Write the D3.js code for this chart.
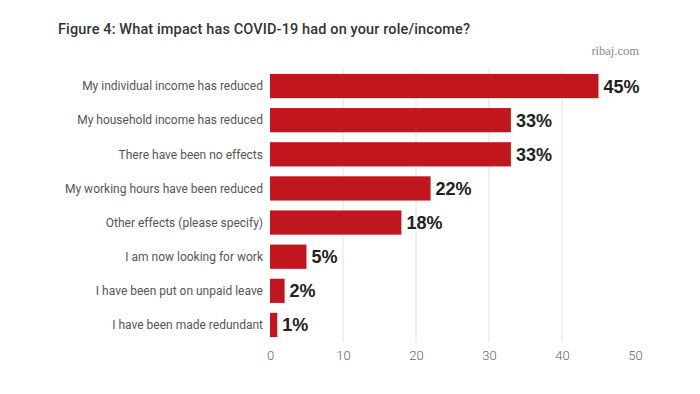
<!DOCTYPE html>
<html><head><meta charset="utf-8">
<script src="https://cdn.jsdelivr.net/npm/d3@7"></script>
<style>body{margin:0;background:#fff}svg{display:block}</style>
</head><body>
<svg id="c" width="700" height="394"></svg>
<script>
const categories = [
  "My individual income has reduced",
  "My household income has reduced",
  "There have been no effects",
  "My working hours have been reduced",
  "Other effects (please specify)",
  "I am now looking for work",
  "I have been put on unpaid leave",
  "I have been made redundant"
];
const values = [45, 33, 33, 22, 18, 5, 2, 1];
const tickValues = [0, 10, 20, 30, 40, 50];
const titleText = "Figure 4: What impact has COVID-19 had on your role/income?";
const sourceText = "ribaj.com";

const svg = d3.select("#c");
const x = d3.scaleLinear().domain([0, 50]).range([270, 635]);
const y = d3.scaleBand().domain(categories).range([69, 342]).paddingInner(0.29).paddingOuter(0.145);

svg.append("text").attr("x", 58).attr("y", 34)
  .attr("font-family", "Roboto, 'Noto Sans', sans-serif").attr("font-weight", 500).attr("font-size", 14.5)
  .attr("textLength", 412).attr("lengthAdjust", "spacing")
  .attr("fill", "#333").text(titleText);
svg.append("text").attr("x", 639).attr("y", 55).attr("text-anchor", "end")
  .attr("font-family", "'Liberation Serif', 'DejaVu Serif', serif").attr("font-size", 12.5)
  .attr("fill", "#888").text(sourceText);

// gridlines
svg.append("g").selectAll("line").data(tickValues.slice(1, -1)).join("line")
  .attr("x1", d => x(d)).attr("x2", d => x(d))
  .attr("y1", 69).attr("y2", 342)
  .attr("stroke", "#e3e3e3").attr("stroke-width", 1);

// x axis
const xAxis = d3.axisBottom(x).tickValues(tickValues).tickSize(0).tickPadding(0);
const ax = svg.append("g").attr("transform", "translate(0,351)").call(xAxis);
ax.select(".domain").remove();
ax.selectAll("text").attr("font-family", "Roboto, 'Noto Sans', sans-serif").attr("font-weight", 300)
  .attr("font-size", 13).attr("fill", "#666").attr("dy", "0.71em");

// bars
svg.append("g").selectAll("rect").data(values).join("rect")
  .attr("x", x(0)).attr("y", (d, i) => y(categories[i]))
  .attr("width", d => x(d) - x(0)).attr("height", y.bandwidth())
  .attr("fill", "#c1161e");

// category labels
svg.append("g").selectAll("text").data(categories).join("text")
  .attr("x", 263).attr("y", d => y(d) + y.bandwidth() / 2).attr("dy", "0.35em")
  .attr("text-anchor", "end").attr("font-family", "Roboto, 'Noto Sans', sans-serif")
  .attr("font-size", 12).attr("fill", "#555").text(d => d);

// value labels
svg.append("g").selectAll("text").data(values).join("text")
  .attr("x", d => x(d) + 5).attr("y", (d, i) => y(categories[i]) + y.bandwidth() / 2).attr("dy", "0.36em")
  .attr("font-family", "'Liberation Sans', Arial, sans-serif").attr("font-weight", "bold")
  .attr("font-size", 18).attr("fill", "#222").text(d => d + "%");
</script>
</body></html>
